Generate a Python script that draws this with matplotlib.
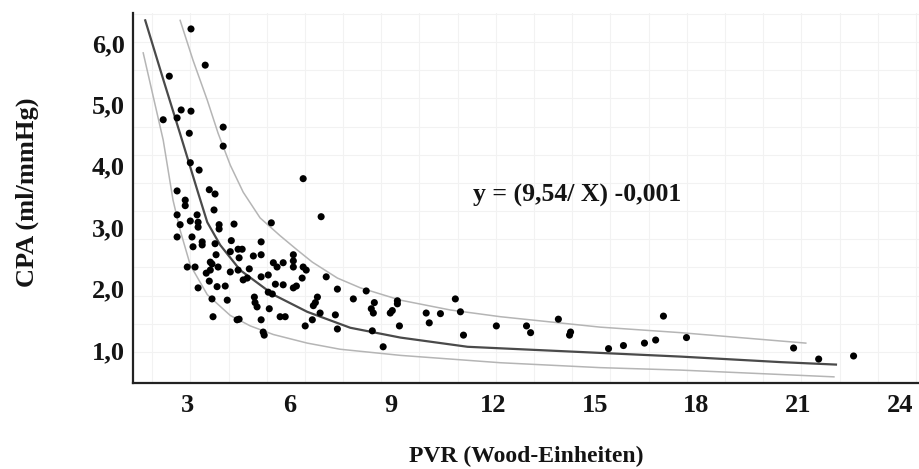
import numpy as np
import matplotlib
matplotlib.use("Agg")
import matplotlib.pyplot as plt

# PVR (Wood units) vs CPA (ml/mmHg), one pair per patient
pvr = [3.09, 3.51, 2.45, 2.80, 3.09, 2.27, 2.68, 4.04, 3.04, 4.04,
       3.07, 3.33, 6.40, 2.68, 3.63, 3.80, 2.92, 2.92, 3.77, 2.68,
       3.27, 3.07, 2.77, 3.30, 3.30, 3.92, 3.92, 4.36, 2.68, 3.12,
       3.42, 3.42, 3.15, 3.80, 4.28, 4.25, 3.83, 4.48, 4.60, 4.51,
       3.66, 3.71, 2.98, 3.21, 3.89, 3.66, 3.54, 4.25, 4.48, 4.63,
       3.63, 3.86, 4.10, 3.30, 3.71, 4.16, 3.74, 4.45, 4.51, 5.46,
       5.16, 4.93, 5.16, 6.11, 6.11, 6.11, 5.52, 5.81, 5.63, 6.40,
       6.49, 4.81, 7.08, 6.37, 5.16, 5.37, 4.75, 5.58, 5.81, 6.11,
       6.20, 7.41, 7.88, 5.37, 5.49, 4.96, 4.98, 5.04, 6.82, 6.76,
       6.70, 5.40, 6.90, 7.35, 5.72, 5.87, 6.67, 5.16, 6.46, 7.41,
       5.22, 5.25, 6.93, 8.26, 8.50, 9.18, 9.18, 8.41, 8.47, 8.97,
       9.03, 10.03, 10.45, 10.89, 11.04, 10.12, 9.24, 8.44, 11.13, 8.76,
       12.10, 12.99, 13.11, 13.93, 14.29, 14.26, 17.03, 15.41, 15.85, 16.47,
       16.80, 17.71, 20.87, 21.61, 22.64]
cpa = [6.23, 5.64, 5.46, 4.91, 4.89, 4.75, 4.78, 4.63, 4.53, 4.32,
       4.05, 3.93, 3.79, 3.59, 3.61, 3.54, 3.44, 3.35, 3.28, 3.20,
       3.20, 3.10, 3.04, 3.08, 3.00, 3.04, 2.97, 3.05, 2.84, 2.84,
       2.76, 2.71, 2.68, 2.73, 2.78, 2.60, 2.55, 2.64, 2.64, 2.50,
       2.43, 2.40, 2.35, 2.35, 2.35, 2.30, 2.25, 2.27, 2.30, 2.14,
       2.12, 2.03, 2.04, 2.01, 1.83, 1.81, 1.54, 1.49, 1.50, 3.07,
       2.76, 2.53, 2.55, 2.55, 2.45, 2.35, 2.42, 2.42, 2.35, 2.35,
       2.30, 2.32, 2.19, 2.17, 2.19, 2.22, 2.17, 2.07, 2.06, 2.01,
       2.04, 1.99, 1.83, 1.94, 1.91, 1.86, 1.77, 1.70, 1.86, 1.77,
       1.72, 1.67, 1.60, 1.57, 1.54, 1.54, 1.49, 1.49, 1.39, 1.34,
       1.29, 1.24, 3.17, 1.96, 1.77, 1.80, 1.75, 1.67, 1.60, 1.60,
       1.64, 1.60, 1.59, 1.83, 1.62, 1.44, 1.39, 1.31, 1.24, 1.05,
       1.39, 1.39, 1.28, 1.50, 1.29, 1.24, 1.55, 1.02, 1.07, 1.11,
       1.16, 1.20, 1.03, 0.85, 0.90]

# fitted hyperbola and its upper / lower band
fit_x = [1.74, 2.27, 2.77, 3.30, 3.57, 3.95, 4.54, 5.52, 6.52,
         7.79, 9.27, 11.25, 13.20, 15.17, 17.54, 20.49, 22.12]
fit_y = [6.37, 5.41, 4.52, 3.56, 3.08, 2.71, 2.30, 1.90, 1.62,
         1.36, 1.20, 1.05, 1.00, 0.95, 0.89, 0.80, 0.76]
upper_x = [2.77, 3.15, 3.57, 3.89, 4.25, 4.63, 5.13, 5.72, 6.22, 6.67,
           7.41, 8.09, 9.27, 10.74, 12.22, 15.17, 17.54, 21.23]
upper_y = [6.37, 5.72, 5.07, 4.53, 4.01, 3.57, 3.15, 2.86, 2.63, 2.43,
           2.17, 2.01, 1.81, 1.65, 1.54, 1.37, 1.28, 1.11]
lower_x = [1.68, 2.27, 2.56, 2.77, 3.07, 3.57, 4.25, 4.84, 5.52, 6.52,
           7.49, 9.27, 12.22, 15.17, 17.54, 22.06]
lower_y = [5.84, 4.42, 3.44, 2.95, 2.38, 1.90, 1.56, 1.39, 1.25, 1.11,
           1.01, 0.91, 0.79, 0.71, 0.67, 0.56]

x_ticks = [3, 6, 9, 12, 15, 18, 21, 24]
y_ticks = [1, 2, 3, 4, 5, 6]
y_labels = ["1,0", "2,0", "3,0", "4,0", "5,0", "6,0"]

plt.rcParams['font.family'] = ['Liberation Serif', 'DejaVu Serif']
ink = '#141414'

fig = plt.figure(figsize=(9.2, 4.69), dpi=100)
ax = fig.add_axes([0.1446, 0.1834, 0.8554, 0.7889])

# faint background grid
ax.set_xticks(np.arange(1.943, 24.7, 1.127), minor=True)
ax.set_yticks(np.arange(0.967, 6.5, 0.459), minor=True)
ax.grid(which='minor', color='#f2f2f2', lw=0.8)
ax.tick_params(which='minor', length=0)

ax.plot(upper_x, upper_y, color='#b5b5b5', lw=1.1, zorder=2)
ax.plot(lower_x, lower_y, color='#b5b5b5', lw=1.1, zorder=2)
ax.plot(fit_x, fit_y, color='#4a4a4a', lw=1.6, zorder=3)
ax.scatter(pvr, cpa, s=26, color='black', edgecolors='none', zorder=4)

ax.set_xlim(1.38, 24.6)
ax.set_ylim(0.46, 6.49)
ax.set_xticks(x_ticks)
ax.set_xticklabels([str(t) for t in x_ticks])
ax.set_yticks(y_ticks)
ax.set_yticklabels(y_labels)
ax.tick_params(which='major', length=0, labelsize=19, colors=ink)
ax.tick_params(axis='x', pad=8)
ax.tick_params(axis='y', pad=6)
for lab in ax.get_xticklabels() + ax.get_yticklabels():
    lab.set_fontweight('bold')

for side in ['top', 'right']:
    ax.spines[side].set_visible(False)
for side in ['left', 'bottom']:
    ax.spines[side].set_color('#222222')
    ax.spines[side].set_linewidth(1.6)

ax.set_xlabel('PVR (Wood-Einheiten)', fontsize=17, fontweight='bold', color=ink)
ax.xaxis.set_label_coords(0.5, -0.17)
ax.set_ylabel('CPA (ml/mmHg)', fontsize=19, fontweight='bold', color=ink)
ax.yaxis.set_label_coords(-0.119, 0.516)
ax.text(11.42, 3.52, 'y = (9,54/ X) -0,001', fontsize=18.5, fontweight='bold',
        color=ink, ha='left', va='center')

fig.savefig('out.png', dpi=100)
